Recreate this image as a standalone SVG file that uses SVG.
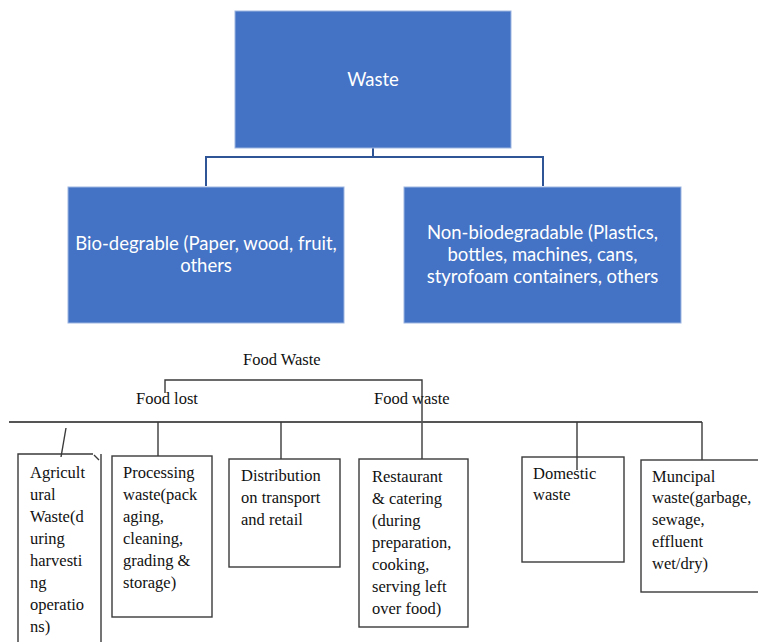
<svg xmlns="http://www.w3.org/2000/svg" width="758" height="642" viewBox="0 0 758 642">
  <style>
    .blue { fill: #4472C4; stroke: #9DB5E0; stroke-width: 1; }
    .btxt { font-family: Lato, "Open Sans", sans-serif; font-size: 18.5px; fill: #FFFFFF; text-anchor: middle; }
    .link { fill: none; stroke: #2F5597; stroke-width: 2; }
    .box { fill: none; stroke: #3A3A3A; stroke-width: 1.4; }
    .edge { fill: none; stroke: #3A3A3A; stroke-width: 1.4; }
    .rule { fill: none; stroke: #555555; stroke-width: 2; }
    .ttxt { font-family: "Liberation Serif", "Times New Roman", serif; font-size: 16.5px; fill: #111111; }
  </style>

  <!-- connectors of the upper chart -->
  <g id="upper-links">
    <path class="link" d="M373,148 V157 M206,186 V157 H543 V186"/>
  </g>

  <g id="node-waste">
    <rect class="blue" x="235" y="11" width="276" height="137"/>
    <text class="btxt" x="373" y="86">Waste</text>
  </g>

  <g id="node-bio">
    <rect class="blue" x="68" y="187" width="276" height="136"/>
    <text class="btxt" x="206" y="250">Bio-degrable (Paper, wood, fruit,</text>
    <text class="btxt" x="206" y="272">others</text>
  </g>

  <g id="node-nonbio">
    <rect class="blue" x="404" y="187" width="277" height="136"/>
    <text class="btxt" x="542.5" y="239">Non-biodegradable (Plastics,</text>
    <text class="btxt" x="542.5" y="261">bottles, machines, cans,</text>
    <text class="btxt" x="542.5" y="283">styrofoam containers, others</text>
  </g>

  <!-- connectors of the food waste tree -->
  <g id="lower-links">
    <path class="edge" d="M165,393 V380 H422 V459"/>
    <path class="rule" d="M9,422 H702"/>
    <path class="edge" d="M66,428 L61,457"/>
    <path class="edge" d="M158,422 V456"/>
    <path class="edge" d="M281,422 V459"/>
    <path class="edge" d="M577,422 V470"/>
    <path class="edge" d="M702,422 V460"/>
  </g>

  <g id="label-food-waste">
    <text class="ttxt" x="243" y="365">Food Waste</text>
  </g>
  <g id="label-food-lost">
    <text class="ttxt" x="136" y="404">Food lost</text>
  </g>
  <g id="label-food-waste-branch">
    <text class="ttxt" x="374" y="404">Food waste</text>
  </g>

  <g id="node-agricultural">
    <path class="edge" d="M18,650 V454 H93 M94,455 L99,460 M101,454 V650"/>
    <text class="ttxt" x="30" y="478">Agricult</text>
    <text class="ttxt" x="30" y="500">ural</text>
    <text class="ttxt" x="30" y="522">Waste(d</text>
    <text class="ttxt" x="30" y="544">uring</text>
    <text class="ttxt" x="30" y="566">harvesti</text>
    <text class="ttxt" x="30" y="588">ng</text>
    <text class="ttxt" x="30" y="610">operatio</text>
    <text class="ttxt" x="30" y="632">ns)</text>
  </g>

  <g id="node-processing">
    <rect class="box" x="112" y="456" width="100" height="161"/>
    <text class="ttxt" x="123" y="478">Processing</text>
    <text class="ttxt" x="123" y="500">waste(pack</text>
    <text class="ttxt" x="123" y="522">aging,</text>
    <text class="ttxt" x="123" y="544">cleaning,</text>
    <text class="ttxt" x="123" y="566">grading &amp;</text>
    <text class="ttxt" x="123" y="588">storage)</text>
  </g>

  <g id="node-distribution">
    <rect class="box" x="229" y="459" width="111" height="108"/>
    <text class="ttxt" x="241" y="481">Distribution</text>
    <text class="ttxt" x="241" y="503">on transport</text>
    <text class="ttxt" x="241" y="525">and retail</text>
  </g>

  <g id="node-restaurant">
    <rect class="box" x="359" y="459" width="109" height="168"/>
    <text class="ttxt" x="372" y="482">Restaurant</text>
    <text class="ttxt" x="372" y="504">&amp; catering</text>
    <text class="ttxt" x="372" y="526">(during</text>
    <text class="ttxt" x="372" y="548">preparation,</text>
    <text class="ttxt" x="372" y="570">cooking,</text>
    <text class="ttxt" x="372" y="592">serving left</text>
    <text class="ttxt" x="372" y="614">over food)</text>
  </g>

  <g id="node-domestic">
    <rect class="box" x="522" y="457" width="102" height="105"/>
    <text class="ttxt" x="533" y="479">Domestic</text>
    <text class="ttxt" x="533" y="500">waste</text>
  </g>

  <g id="node-municipal">
    <rect class="box" x="641" y="460" width="120" height="132"/>
    <text class="ttxt" x="652" y="482">Muncipal</text>
    <text class="ttxt" x="652" y="503">waste(garbage,</text>
    <text class="ttxt" x="652" y="525">sewage,</text>
    <text class="ttxt" x="652" y="547">effluent</text>
    <text class="ttxt" x="652" y="569">wet/dry)</text>
  </g>
</svg>
